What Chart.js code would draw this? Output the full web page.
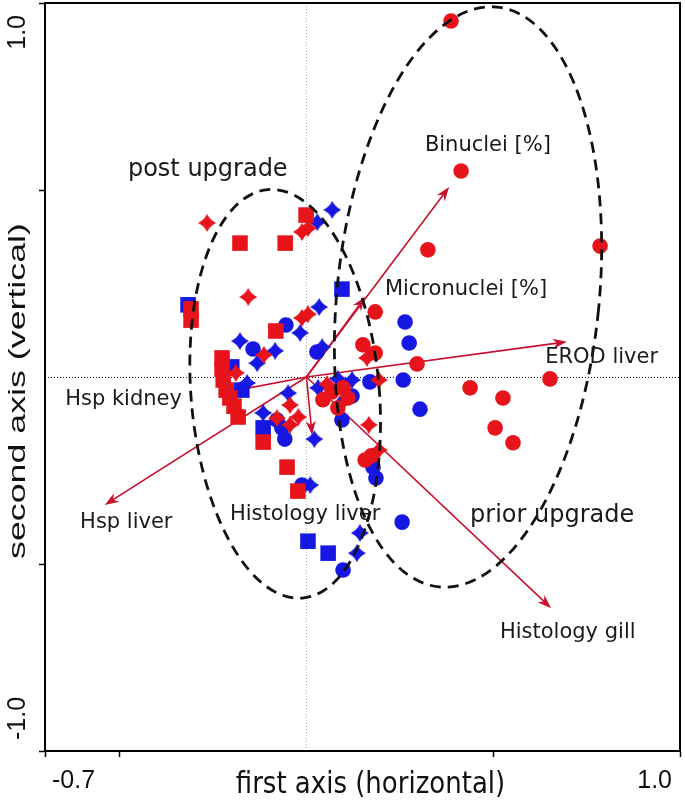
<!DOCTYPE html>
<html><head><meta charset="utf-8">
<script src="https://cdn.jsdelivr.net/npm/chart.js@4"></script>
<style>html,body{margin:0;padding:0;background:#fff}canvas{display:block}</style>
</head><body>
<canvas id="c" width="685" height="801"></canvas>
<script>
// ---- axis ticks ----
const xTicks = [-0.7, -0.5, 0.5, 1.0];
const yTicks = [-1.0, -0.5, 0.5, 1.0];
const xTickLabels = ['-0.7', '1.0'];
const yTickLabels = ['-1.0', '1.0'];
const xTitle = 'first axis (horizontal)';
const yTitle = 'second axis (vertical)';

// ---- sample scores ----
const redCircles = [[0.387,0.952],[0.414,0.551],[0.786,0.350],[0.325,0.340],[0.184,0.174],[0.151,0.086],[0.184,0.064],[0.296,0.035],[0.438,-0.029],[0.526,-0.056],[0.652,-0.005],[0.505,-0.136],[0.553,-0.176],[0.044,-0.061],[0.068,-0.040],[0.098,-0.029],[0.111,-0.056],[0.084,-0.083],[0.157,-0.222],[0.173,-0.211]];
const blueCircles = [[0.264,0.147],[0.275,0.091],[0.259,-0.008],[0.304,-0.086],[0.170,-0.013],[0.095,-0.115],[0.122,-0.051],[0.178,-0.241],[0.186,-0.270],[0.256,-0.388],[0.098,-0.516],[-0.055,0.139],[-0.143,0.075],[0.028,0.067],[-0.079,-0.115],[-0.066,-0.136],[-0.058,-0.166],[-0.012,-0.289]];
const redSquares = [[-0.001,0.433],[-0.178,0.358],[-0.057,0.358],[-0.309,0.182],[-0.309,0.152],[-0.082,0.123],[-0.226,0.051],[-0.226,0.021],[-0.223,-0.008],[-0.215,-0.035],[-0.205,-0.056],[-0.194,-0.078],[-0.183,-0.107],[-0.116,-0.174],[-0.052,-0.241],[-0.023,-0.305]];
const blueSquares = [[0.095,0.235],[-0.317,0.193],[-0.200,0.027],[-0.173,-0.035],[-0.116,-0.136],[0.004,-0.439],[0.058,-0.471]];
const redStars = [[-0.266,0.412],[-0.012,0.388],[0.004,0.398],[-0.156,0.214],[-0.012,0.158],[0.004,0.168],[-0.114,0.059],[-0.189,0.011],[0.162,0.051],[0.194,-0.008],[0.167,-0.128],[0.194,-0.195],[-0.044,-0.075],[-0.022,-0.107],[-0.079,-0.110],[-0.044,-0.128],[0.055,-0.019]];
const blueStars = [[0.069,0.447],[0.029,0.414],[0.034,0.187],[-0.017,0.118],[-0.178,0.096],[-0.084,0.070],[-0.132,0.037],[0.042,0.080],[-0.159,-0.016],[-0.049,-0.043],[-0.116,-0.096],[0.021,-0.166],[0.010,-0.289],[0.084,-0.005],[0.122,-0.008],[0.031,-0.029],[0.090,-0.072],[0.143,-0.417],[0.135,-0.471]];

// ---- environmental variable arrows ----
const arrowNames = ['Binuclei [%]','Micronuclei [%]','EROD liver','Hsp kidney','Hsp liver','Histology liver','Histology gill'];
const arrowX = [0.382, 0.157, 0.697, -0.210, -0.540, 0.015, 0.655];
const arrowY = [0.508, 0.214, 0.094, -0.040, -0.342, -0.155, -0.618];

// ---- group ellipses ----
const groupNames = ['post upgrade', 'prior upgrade'];
const groupCX = [-0.057, 0.4325];
const groupCY = [-0.045, 0.214];
const groupRX = [0.252, 0.351];
const groupRY = [0.548, 0.779];
const groupRot = [-4.8, 5.7];

// ---- layout / style (not data) ----
const arrowLabelPos = [[0.317,0.618],[0.210,0.233],[0.639,0.051],[-0.646,-0.059],[-0.606,-0.390],[-0.205,-0.369],[0.518,-0.682]];
const groupLabelPos = [[-0.478,0.553],[0.438,-0.372]];
const RED = '#E8141B', BLUE = '#1717E3', ARROW = '#C8102E';

function makeStar(color, size){
  const c = document.createElement('canvas'); c.width = c.height = size;
  const g = c.getContext('2d'); const h = size/2, k = size*0.16;
  g.fillStyle = color; g.beginPath();
  g.moveTo(h,0);
  g.quadraticCurveTo(h+k,h-k,size,h);
  g.quadraticCurveTo(h+k,h+k,h,size);
  g.quadraticCurveTo(h-k,h+k,0,h);
  g.quadraticCurveTo(h-k,h-k,h,0);
  g.fill(); return c;
}
const toPts = arr => arr.map(p => ({x:p[0], y:p[1]}));

const overlay = {
  id: 'overlay',
  beforeDatasetsDraw(chart){
    const {ctx, chartArea:a, scales:{x, y}} = chart;
    ctx.save();
    const x0 = x.getPixelForValue(0), y0 = y.getPixelForValue(0);
    ctx.lineWidth = 1;
    ctx.setLineDash([1,2]);
    ctx.strokeStyle = '#111';
    ctx.beginPath(); ctx.moveTo(a.left, Math.round(y0)+0.5); ctx.lineTo(a.right, Math.round(y0)+0.5); ctx.stroke();
    ctx.strokeStyle = '#aaa';
    ctx.beginPath(); ctx.moveTo(Math.round(x0)+0.5, a.top); ctx.lineTo(Math.round(x0)+0.5, a.bottom); ctx.stroke();
    ctx.setLineDash([]);
    // arrows
    ctx.strokeStyle = ARROW; ctx.fillStyle = ARROW; ctx.lineWidth = 1.6;
    for (let i = 0; i < arrowX.length; i++){
      const x2 = x.getPixelForValue(arrowX[i]), y2 = y.getPixelForValue(arrowY[i]);
      const ang = Math.atan2(y2-y0, x2-x0);
      const L = 14, W = 5;
      const c = Math.cos(ang), s = Math.sin(ang);
      ctx.beginPath(); ctx.moveTo(x0, y0); ctx.lineTo(x2 - L*0.7*c, y2 - L*0.7*s); ctx.stroke();
      ctx.beginPath();
      ctx.moveTo(x2, y2);
      ctx.lineTo(x2 - L*c + W*s, y2 - L*s - W*c);
      ctx.lineTo(x2 - L*0.7*c, y2 - L*0.7*s);
      ctx.lineTo(x2 - L*c - W*s, y2 - L*s + W*c);
      ctx.closePath(); ctx.fill();
    }
    ctx.restore();
  },
  afterDatasetsDraw(chart){
    const {ctx, scales:{x, y}} = chart;
    ctx.save();
    const sx = Math.abs(x.getPixelForValue(1) - x.getPixelForValue(0));
    const sy = Math.abs(y.getPixelForValue(1) - y.getPixelForValue(0));
    ctx.strokeStyle = '#111'; ctx.lineWidth = 2.8; ctx.setLineDash([11,7]);
    for (let i = 0; i < groupCX.length; i++){
      ctx.beginPath();
      ctx.ellipse(x.getPixelForValue(groupCX[i]), y.getPixelForValue(groupCY[i]), groupRX[i]*sx, groupRY[i]*sy, groupRot[i]*Math.PI/180, 0, 2*Math.PI);
      ctx.stroke();
    }
    ctx.setLineDash([]);
    ctx.fillStyle = '#1a1a1a';
    ctx.textAlign = 'left'; ctx.textBaseline = 'middle';
    ctx.font = '21px "DejaVu Sans"';
    arrowNames.forEach((n, i) => ctx.fillText(n, x.getPixelForValue(arrowLabelPos[i][0]), y.getPixelForValue(arrowLabelPos[i][1])));
    ctx.font = '24px "DejaVu Sans"';
    groupNames.forEach((n, i) => ctx.fillText(n, x.getPixelForValue(groupLabelPos[i][0]), y.getPixelForValue(groupLabelPos[i][1])));
    ctx.restore();
  },
  afterDraw(chart){
    const {ctx, chartArea:a, scales:{x, y}} = chart;
    ctx.save();
    ctx.strokeStyle = '#000'; ctx.lineWidth = 2;
    ctx.strokeRect(a.left, a.top, a.right - a.left, a.bottom - a.top);
    ctx.fillStyle = '#111';
    ctx.font = '25px "Liberation Sans", Arial, sans-serif';
    ctx.textBaseline = 'alphabetic';
    // x tick labels (inner aligned)
    ctx.textAlign = 'left';
    ctx.fillText(xTickLabels[0], x.getPixelForValue(xTicks[0]) + 7, a.bottom + 37);
    ctx.textAlign = 'right';
    ctx.fillText(xTickLabels[1], x.getPixelForValue(xTicks[xTicks.length-1]) - 8, a.bottom + 37);
    // y tick labels (rotated, inner aligned)
    ctx.save(); ctx.translate(a.left - 20, y.getPixelForValue(yTicks[0]) - 11); ctx.rotate(-Math.PI/2);
    ctx.textAlign = 'left'; ctx.fillText(yTickLabels[0], 0, 0); ctx.restore();
    ctx.save(); ctx.translate(a.left - 20, y.getPixelForValue(yTicks[yTicks.length-1]) + 12); ctx.rotate(-Math.PI/2);
    ctx.textAlign = 'right'; ctx.fillText(yTickLabels[1], 0, 0); ctx.restore();
    // x title
    ctx.save();
    ctx.font = '26px "DejaVu Sans"'; ctx.textAlign = 'center';
    ctx.translate((a.left + a.right)/2 + 8, a.bottom + 42); ctx.scale(1, 1.15);
    ctx.fillText(xTitle, 0, 0); ctx.restore();
    // y title
    ctx.save();
    ctx.font = '24px "Liberation Sans", Arial, sans-serif'; ctx.textAlign = 'center';
    ctx.translate(a.left - 20, (a.top + a.bottom)/2 + 14); ctx.rotate(-Math.PI/2); ctx.scale(1.49, 1);
    ctx.fillText(yTitle, 0, 0); ctx.restore();
    ctx.restore();
  }
};

const starR = makeStar(RED, 18), starB = makeStar(BLUE, 18);
const ds = (data, color, style, r) => ({data: toPts(data), backgroundColor: color, borderWidth: 0, pointStyle: style, pointRadius: r, pointHoverRadius: r});

new Chart(document.getElementById('c'), {
  type: 'scatter',
  data: { datasets: [
    ds(redStars, RED, starR, 9),
    ds(redSquares, RED, 'rect', 11),
    ds(redCircles, RED, 'circle', 7.8),
    ds(blueStars, BLUE, starB, 9),
    ds(blueSquares, BLUE, 'rect', 11),
    ds(blueCircles, BLUE, 'circle', 7.8)
  ]},
  options: {
    responsive: false, animation: false, events: [],
    layout: { autoPadding: false, padding: { left: 39, right: 5, top: 3, bottom: 44 } },
    plugins: { legend: { display: false }, tooltip: { enabled: false } },
    scales: {
      x: { type: 'linear', min: -0.7, max: 1.0,
        afterBuildTicks: s => { s.ticks = xTicks.map(v => ({value: v})); },
        ticks: { display: false },
        grid: { drawOnChartArea: false, drawTicks: true, tickLength: 6, color: '#000', tickWidth: 1.5 },
        border: { display: true, color: '#000', width: 2 } },
      y: { type: 'linear', min: -1.0, max: 1.0,
        afterBuildTicks: s => { s.ticks = yTicks.map(v => ({value: v})); },
        ticks: { display: false },
        grid: { drawOnChartArea: false, drawTicks: true, tickLength: 6, color: '#000', tickWidth: 1.5 },
        border: { display: true, color: '#000', width: 2 } }
    }
  },
  plugins: [overlay]
});
</script>
</body></html>
